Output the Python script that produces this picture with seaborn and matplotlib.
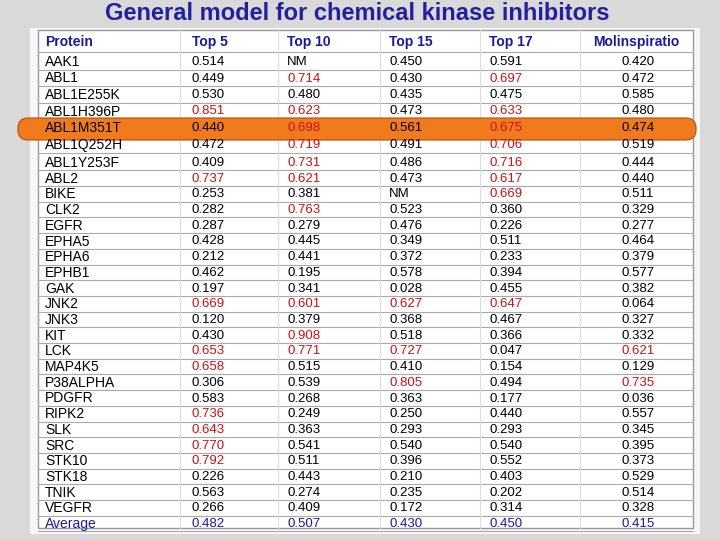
import numpy as np
import pandas as pd
import matplotlib
matplotlib.use("Agg")
import matplotlib.pyplot as plt
from matplotlib.patches import FancyBboxPatch, Rectangle
import seaborn as sns

# table data
proteins = ['AAK1', 'ABL1', 'ABL1E255K', 'ABL1H396P', 'ABL1M351T', 'ABL1Q252H', 'ABL1Y253F',
            'ABL2', 'BIKE', 'CLK2', 'EGFR', 'EPHA5', 'EPHA6', 'EPHB1', 'GAK', 'JNK2', 'JNK3',
            'KIT', 'LCK', 'MAP4K5', 'P38ALPHA', 'PDGFR', 'RIPK2', 'SLK', 'SRC', 'STK10',
            'STK18', 'TNIK', 'VEGFR']
top5 = ['0.514', '0.449', '0.530', '0.851', '0.440', '0.472', '0.409', '0.737', '0.253', '0.282',
        '0.287', '0.428', '0.212', '0.462', '0.197', '0.669', '0.120', '0.430', '0.653', '0.658',
        '0.306', '0.583', '0.736', '0.643', '0.770', '0.792', '0.226', '0.563', '0.266']
top10 = ['NM', '0.714', '0.480', '0.623', '0.698', '0.719', '0.731', '0.621', '0.381', '0.763',
         '0.279', '0.445', '0.441', '0.195', '0.341', '0.601', '0.379', '0.908', '0.771', '0.515',
         '0.539', '0.268', '0.249', '0.363', '0.541', '0.511', '0.443', '0.274', '0.409']
top15 = ['0.450', '0.430', '0.435', '0.473', '0.561', '0.491', '0.486', '0.473', 'NM', '0.523',
         '0.476', '0.349', '0.372', '0.578', '0.028', '0.627', '0.368', '0.518', '0.727', '0.410',
         '0.805', '0.363', '0.250', '0.293', '0.540', '0.396', '0.210', '0.235', '0.172']
top17 = ['0.591', '0.697', '0.475', '0.633', '0.675', '0.706', '0.716', '0.617', '0.669', '0.360',
         '0.226', '0.511', '0.233', '0.394', '0.455', '0.647', '0.467', '0.366', '0.047', '0.154',
         '0.494', '0.177', '0.440', '0.293', '0.540', '0.552', '0.403', '0.202', '0.314']
molinsp = ['0.420', '0.472', '0.585', '0.480', '0.474', '0.519', '0.444', '0.440', '0.511', '0.329',
           '0.277', '0.464', '0.379', '0.577', '0.382', '0.064', '0.327', '0.332', '0.621', '0.129',
           '0.735', '0.036', '0.557', '0.345', '0.395', '0.373', '0.529', '0.514', '0.328']
averages = ['0.482', '0.507', '0.430', '0.450', '0.415']
headers = ['Protein', 'Top 5', 'Top 10', 'Top 15', 'Top 17', 'Molinspiratio']

df = pd.DataFrame({'Top 5': top5, 'Top 10': top10, 'Top 15': top15,
                   'Top 17': top17, 'Molinspiratio': molinsp}, index=proteins)

sns.set_style("white")
plt.rcParams['font.family'] = ['Liberation Sans', 'DejaVu Sans']

fig = plt.figure(figsize=(7.2, 5.4), dpi=100)
fig.patch.set_facecolor('#d9d9d9')
ax = fig.add_axes([0, 0, 1, 1])
ax.set_xlim(0, 720)
ax.set_ylim(540, 0)
ax.axis('off')

# table panel
ax.add_patch(Rectangle((30, 28), 670, 506, facecolor='#f7f7f7', edgecolor='none', zorder=0))
ax.add_patch(Rectangle((38, 30), 655, 498, facecolor='white', edgecolor='#999999', lw=1, zorder=0.5))

n = len(proteins) + 1
def row_y(i):
    return 62 + 16.5 * i if i < 6 else 163 + 15.7 * (i - 6)

col_x = [45, 192, 287, 389, 489, 622]
head_x = [45, 192, 287, 389, 489, 593]

# grid lines
for i in range(n):
    yb = (row_y(i) + row_y(i + 1)) / 2 if i < n - 1 else 531
    ax.plot([38, 693], [yb - 0.5, yb - 0.5], color='#aaaaaa', lw=0.8, zorder=1)
ax.plot([38, 693], [52, 52], color='#aaaaaa', lw=0.8, zorder=1)
for xv in [180, 278, 380, 480, 580]:
    ax.plot([xv, xv], [30, 528], color='#dddddd', lw=0.8, zorder=1)

# highlight bar
ax.add_patch(FancyBboxPatch((18, row_y(4) - 10), 678, 22,
                            boxstyle="round,pad=0,rounding_size=10",
                            facecolor='#f07a1c', edgecolor='#b05010', lw=0.8, zorder=2))

ax.text(357, 14, 'General model for chemical kinase inhibitors', ha='center', va='center',
        fontsize=17, fontweight='bold', color='#2020a0')

for x, h in zip(head_x, headers):
    ax.text(x, 42, h, ha='left', va='center', fontsize=10, fontweight='bold',
            color='#1a1a99', zorder=3)

for i, p in enumerate(proteins):
    y = row_y(i)
    ax.text(45, y, p, ha='left', va='center', fontsize=10, color='black', zorder=3)
    for x, col in zip(col_x[1:], df.columns):
        v = df.loc[p, col]
        red = v != 'NM' and float(v) > 0.6
        ax.text(x, y, v, ha='left', va='center', fontsize=9.5,
                color='#cc1111' if red else 'black', zorder=3)

y = row_y(len(proteins))
ax.text(45, y, 'Average', ha='left', va='center', fontsize=10, color='#1a1a99', zorder=3)
for x, v in zip(col_x[1:], averages):
    ax.text(x, y, v, ha='left', va='center', fontsize=9.5, color='#1a1a99', zorder=3)

fig.savefig('out.png', dpi=100)
